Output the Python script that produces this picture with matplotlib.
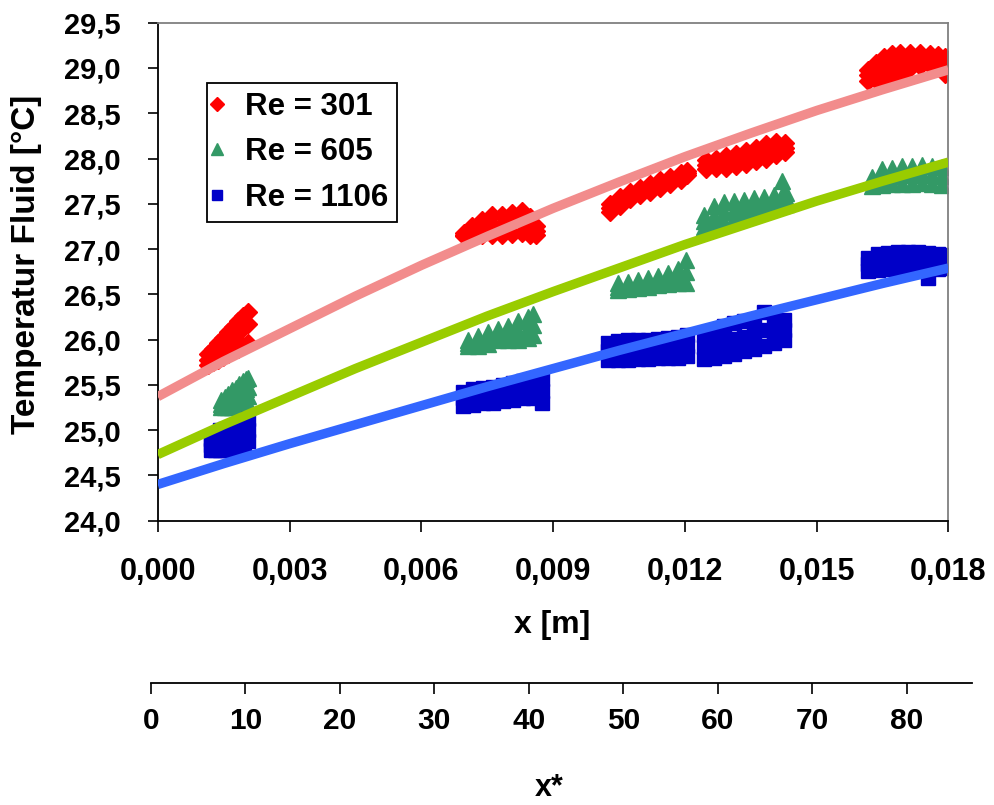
import matplotlib
matplotlib.use("Agg")
import matplotlib.pyplot as plt
from matplotlib.lines import Line2D
from matplotlib.ticker import FuncFormatter

plt.rcParams['font.family'] = ['Liberation Sans', 'DejaVu Sans']
plt.rcParams['font.weight'] = 'bold'

# ---- measured fluid temperatures (three readings per probe position) ----
x_re301 = [0.00115, 0.00126, 0.00137, 0.00149, 0.00160, 0.00171, 0.00183, 0.00194, 0.00206,
           0.00697, 0.00716, 0.00738, 0.00761, 0.00784, 0.00807, 0.00829, 0.00848, 0.00861,
           0.01030, 0.01053, 0.01076, 0.01098, 0.01121, 0.01144, 0.01167, 0.01190, 0.01205,
           0.01248, 0.01271, 0.01294, 0.01317, 0.01339, 0.01362, 0.01385, 0.01408, 0.01428,
           0.01617, 0.01635, 0.01654, 0.01672, 0.01690, 0.01713, 0.01736, 0.01758, 0.01777, 0.01793]
t_re301_lo = [25.72, 25.75, 25.78, 25.81, 25.84, 25.87, 25.90, 25.93, 25.96,
              27.14, 27.15, 27.15, 27.15, 27.16, 27.17, 27.18, 27.16, 27.15,
              27.41, 27.47, 27.55, 27.60, 27.63, 27.67, 27.72, 27.76, 27.82,
              27.88, 27.89, 27.90, 27.92, 27.94, 27.97, 28.00, 28.04, 28.07,
              28.86, 28.87, 28.88, 28.90, 28.92, 29.00, 29.02, 29.03, 29.02, 28.93]
t_re301_mid = [25.78, 25.83, 25.88, 25.93, 25.98, 26.03, 26.08, 26.13, 26.17,
               27.16, 27.20, 27.24, 27.27, 27.27, 27.29, 27.30, 27.26, 27.20,
               27.45, 27.52, 27.59, 27.63, 27.67, 27.71, 27.76, 27.80, 27.84,
               27.93, 27.94, 27.96, 27.98, 28.01, 28.04, 28.08, 28.11, 28.12,
               28.92, 28.96, 29.00, 29.03, 29.08, 29.09, 29.09, 29.09, 29.08, 29.02]
t_re301_hi = [25.84, 25.90, 25.96, 26.02, 26.08, 26.14, 26.20, 26.26, 26.30,
              27.18, 27.25, 27.32, 27.38, 27.38, 27.40, 27.42, 27.35, 27.25,
              27.50, 27.58, 27.63, 27.67, 27.72, 27.76, 27.80, 27.84, 27.86,
              27.98, 28.00, 28.03, 28.05, 28.08, 28.12, 28.16, 28.18, 28.17,
              28.98, 29.06, 29.12, 29.15, 29.16, 29.17, 29.16, 29.15, 29.14, 29.12]

x_re605 = [0.00144, 0.00152, 0.00160, 0.00169, 0.00178, 0.00186, 0.00194, 0.00200, 0.00206,
           0.00707, 0.00729, 0.00752, 0.00775, 0.00798, 0.00820, 0.00843, 0.00855,
           0.01048, 0.01071, 0.01094, 0.01117, 0.01139, 0.01162, 0.01185, 0.01203,
           0.01244, 0.01266, 0.01289, 0.01312, 0.01335, 0.01358, 0.01380, 0.01403, 0.01421, 0.01431,
           0.01626, 0.01649, 0.01672, 0.01695, 0.01717, 0.01740, 0.01763, 0.01786]
t_re605_lo = [25.25, 25.25, 25.26, 25.26, 25.27, 25.28, 25.30, 25.33, 25.38,
              25.93, 25.93, 25.95, 26.00, 26.00, 26.00, 26.02, 26.05,
              26.55, 26.56, 26.57, 26.58, 26.60, 26.61, 26.62, 26.63,
              27.24, 27.27, 27.30, 27.33, 27.36, 27.40, 27.43, 27.46, 27.49, 27.50,
              27.70, 27.71, 27.72, 27.72, 27.72, 27.73, 27.72, 27.71]
t_re605_mid = [25.29, 25.31, 25.33, 25.35, 25.37, 25.40, 25.42, 25.45, 25.48,
               25.96, 25.98, 26.01, 26.06, 26.07, 26.10, 26.13, 26.16,
               26.58, 26.60, 26.61, 26.63, 26.65, 26.67, 26.70, 26.75,
               27.31, 27.37, 27.41, 27.43, 27.45, 27.48, 27.50, 27.53, 27.60, 27.56,
               27.75, 27.79, 27.81, 27.82, 27.82, 27.83, 27.82, 27.81]
t_re605_hi = [25.33, 25.37, 25.40, 25.44, 25.47, 25.51, 25.54, 25.56, 25.58,
              26.00, 26.04, 26.08, 26.12, 26.15, 26.20, 26.25, 26.28,
              26.62, 26.64, 26.66, 26.68, 26.70, 26.73, 26.78, 26.88,
              27.38, 27.48, 27.52, 27.53, 27.54, 27.56, 27.57, 27.60, 27.75, 27.62,
              27.80, 27.88, 27.90, 27.92, 27.92, 27.93, 27.92, 27.91]

x_re1106 = [0.00121, 0.00131, 0.00142, 0.00153, 0.00165, 0.00176, 0.00187, 0.00197, 0.00206,
            0.00695, 0.00718, 0.00741, 0.00763, 0.00786, 0.00809, 0.00832, 0.00855, 0.00875,
            0.01025, 0.01048, 0.01071, 0.01094, 0.01117, 0.01139, 0.01162, 0.01185, 0.01205,
            0.01244, 0.01266, 0.01289, 0.01312, 0.01335, 0.01358, 0.01380, 0.01403, 0.01426,
            0.01617, 0.01640, 0.01663, 0.01686, 0.01708, 0.01731, 0.01754, 0.01777, 0.01795]
t_re1106_lo = [24.78, 24.78, 24.78, 24.78, 24.78, 24.79, 24.80, 24.84, 24.88,
               25.27, 25.28, 25.30, 25.30, 25.32, 25.33, 25.35, 25.35, 25.30,
               25.78, 25.78, 25.78, 25.79, 25.79, 25.80, 25.80, 25.80, 25.82,
               25.79, 25.80, 25.82, 25.84, 25.87, 25.90, 25.93, 25.96, 26.00,
               26.76, 26.77, 26.78, 26.78, 26.79, 26.78, 26.68, 26.78, 26.79]
t_re1106_mid = [24.84, 24.86, 24.89, 24.90, 24.90, 24.92, 24.93, 24.96, 25.00,
                25.35, 25.36, 25.38, 25.39, 25.41, 25.42, 25.44, 25.46, 25.43,
                25.87, 25.88, 25.88, 25.89, 25.90, 25.90, 25.91, 25.92, 25.93,
                25.92, 25.95, 25.98, 26.01, 26.03, 26.06, 26.11, 26.10, 26.11,
                26.83, 26.85, 26.87, 26.88, 26.88, 26.88, 26.82, 26.86, 26.86]
t_re1106_hi = [24.90, 24.95, 25.00, 25.01, 25.02, 25.04, 25.06, 25.09, 25.12,
               25.42, 25.45, 25.46, 25.48, 25.50, 25.52, 25.54, 25.57, 25.56,
               25.96, 25.98, 25.99, 26.00, 26.00, 26.01, 26.02, 26.03, 26.05,
               26.05, 26.10, 26.15, 26.18, 26.20, 26.22, 26.30, 26.24, 26.22,
               26.90, 26.94, 26.96, 26.97, 26.97, 26.97, 26.96, 26.95, 26.93]

# ---- trend lines ----
fit_x = [0.0, 0.0015, 0.003, 0.0045, 0.006, 0.0075, 0.009,
         0.0105, 0.012, 0.0135, 0.015, 0.0165, 0.018]
fit_re301 = [25.37, 25.76, 26.12, 26.48, 26.82, 27.14, 27.45, 27.74, 28.02, 28.28, 28.53, 28.76, 28.98]
fit_re605 = [24.73, 25.06, 25.37, 25.68, 25.97, 26.26, 26.53, 26.79, 27.05, 27.29, 27.53, 27.75, 27.96]
fit_re1106 = [24.40, 24.63, 24.85, 25.06, 25.27, 25.48, 25.68, 25.88, 26.07, 26.26, 26.44, 26.62, 26.79]

labels = ["Re = 301", "Re = 605", "Re = 1106"]
x_ticks = [0.000, 0.003, 0.006, 0.009, 0.012, 0.015, 0.018]
y_ticks = [24.0, 24.5, 25.0, 25.5, 26.0, 26.5, 27.0, 27.5, 28.0, 28.5, 29.0, 29.5]
xstar_ticks = [0, 10, 20, 30, 40, 50, 60, 70, 80]

C_RED, C_GREEN, C_BLUE = "#FF0000", "#339966", "#0000C8"
C_PINK, C_LIME, C_LBLUE = "#F28C8C", "#99CC00", "#3366FF"

fig = plt.figure(figsize=(9.94, 8.05), dpi=100)
fig.patch.set_facecolor("white")
ax = fig.add_axes([0.1587, 0.3532, 0.7955, 0.6186])

series = [
    (x_re301, (t_re301_lo, t_re301_mid, t_re301_hi), "D", C_RED, 9.5),
    (x_re605, (t_re605_lo, t_re605_mid, t_re605_hi), "^", C_GREEN, 11),
    (x_re1106, (t_re1106_lo, t_re1106_mid, t_re1106_hi), "s", C_BLUE, 10),
]
for xs, readings, mk, col, ms in series:
    for ts in readings:
        ax.plot(xs, ts, linestyle="none", marker=mk, ms=ms, color=col,
                mec=col, zorder=2)

for fy, col in ((fit_re301, C_PINK), (fit_re605, C_LIME), (fit_re1106, C_LBLUE)):
    ax.plot(fit_x, fy, color=col, lw=6.8, solid_capstyle="butt",
            solid_joinstyle="round", zorder=3)

ax.set_xlim(0, 0.018)
ax.set_ylim(24.0, 29.5)
ax.set_xticks(x_ticks)
ax.set_yticks(y_ticks)
ax.xaxis.set_major_formatter(FuncFormatter(lambda v, p: f"{v:.3f}".replace(".", ",")))
ax.yaxis.set_major_formatter(FuncFormatter(lambda v, p: f"{v:.1f}".replace(".", ",")))
ax.tick_params(axis="both", direction="out", width=1.2, color="black")
ax.tick_params(axis="x", length=8, pad=18, labelsize=22)
ax.tick_params(axis="y", length=7.5, pad=19, labelsize=21)
for s in ("left", "bottom"):
    ax.spines[s].set_linewidth(1.3)
    ax.spines[s].set_color("black")
for s in ("top", "right"):
    ax.spines[s].set_linewidth(1.3)
    ax.spines[s].set_color("#808080")
for lab in ax.get_xticklabels() + ax.get_yticklabels():
    lab.set_fontweight("bold")

handles = [
    Line2D([], [], linestyle="none", marker="D", ms=7, color=C_RED),
    Line2D([], [], linestyle="none", marker="^", ms=9, color=C_GREEN),
    Line2D([], [], linestyle="none", marker="s", ms=7.5, color=C_BLUE),
]
leg = ax.legend(handles, labels, loc="upper left",
                bbox_to_anchor=(207 / 994, 1 - 83 / 805), bbox_transform=fig.transFigure,
                frameon=True, fancybox=False, shadow=False, edgecolor="black",
                prop={"size": 22.5, "weight": "bold"}, handlelength=0.1,
                handletextpad=0.85, borderpad=0.28, labelspacing=0.5, borderaxespad=0)
leg.get_frame().set_linewidth(1.3)
leg.get_frame().set_alpha(1)

# dimensionless position axis below the main chart
ax2 = fig.add_axes([150.8 / 994, 1 - 683 / 805, (972 - 150.8) / 994, 0.0001])
ax2.set_xlim(0, 86.9)
ax2.set_xticks(xstar_ticks)
ax2.set_yticks([])
for s in ("left", "right", "top"):
    ax2.spines[s].set_visible(False)
ax2.spines["bottom"].set_linewidth(1.3)
ax2.patch.set_visible(False)
ax2.tick_params(axis="x", direction="out", length=8, width=1.2, pad=9, labelsize=21.5)
for lab in ax2.get_xticklabels():
    lab.set_fontweight("bold")

fig.text(27 / 994, 1 - 264 / 805, "Temperatur Fluid [°C]", rotation=90,
         ha="center", va="center", fontsize=24, fontweight="bold")
fig.text(552 / 994, 1 - 625 / 805, "x [m]", ha="center", va="center",
         fontsize=23, fontweight="bold")
fig.text(549 / 994, 1 - 788 / 805, "x*", ha="center", va="center",
         fontsize=22, fontweight="bold")

fig.savefig("out.png", dpi=100, facecolor="white")
